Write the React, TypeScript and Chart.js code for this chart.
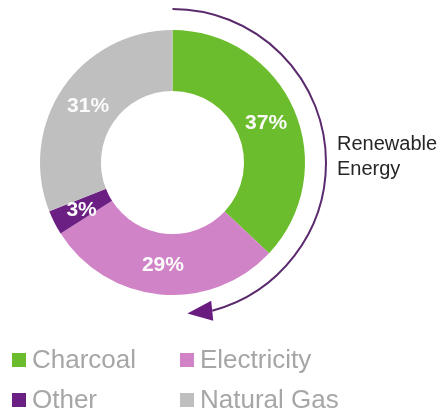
import React, { useEffect, useRef } from "react";
import { Chart, registerables } from "chart.js";

Chart.register(...registerables);

const categories = ["Charcoal", "Electricity", "Other", "Natural Gas"];
const shares = [37, 29, 3, 31];
const colors = ["#6cbd2d", "#d083c6", "#6b1f83", "#bfbfbf"];
const legendOrder = [
  ["Charcoal", "Electricity"],
  ["Other", "Natural Gas"],
];
const annotationLines = ["Renewable", "Energy"];

const FONT = '"Liberation Sans", Arial, Helvetica, sans-serif';

const labelPlugin = {
  id: "sliceLabels",
  afterDatasetsDraw(chart: any) {
    const ctx = chart.ctx;
    const meta = chart.getDatasetMeta(0);
    ctx.save();
    ctx.font = `bold 21px ${FONT}`;
    ctx.fillStyle = "#fbfbfb";
    ctx.textAlign = "center";
    ctx.textBaseline = "middle";
    meta.data.forEach((el: any, i: number) => {
      const p = el.tooltipPosition(false);
      ctx.fillText(`${shares[i]}%`, p.x, p.y + 1);
    });
    ctx.restore();
  },
};

const arrowPlugin = {
  id: "renewableArrow",
  afterDraw(chart: any) {
    const meta = chart.getDatasetMeta(0);
    const el: any = meta.data[0];
    if (!el) return;
    const cx = el.x;
    const cy = el.y;
    const R = el.outerRadius + 21;
    const ctx = chart.ctx;
    const endDeg = 165;
    const endRad = (endDeg * Math.PI) / 180;
    ctx.save();
    ctx.strokeStyle = "#5a2a6c";
    ctx.lineWidth = 2;
    ctx.beginPath();
    ctx.arc(cx, cy, R, -Math.PI / 2, -Math.PI / 2 + endRad, false);
    ctx.stroke();
    // arrow head, pointing along the chord of the continuing circle
    const bx = cx + R * Math.sin(endRad);
    const by = cy - R * Math.cos(endRad);
    const dirRad = ((endDeg + 9) * Math.PI) / 180;
    const tx = Math.cos(dirRad);
    const ty = Math.sin(dirRad);
    const nx = -ty;
    const ny = tx;
    const len = 25;
    const half = 10;
    ctx.fillStyle = "#6a1b80";
    ctx.beginPath();
    ctx.moveTo(bx + tx * len, by + ty * len);
    ctx.lineTo(bx + nx * half, by + ny * half);
    ctx.lineTo(bx - nx * half, by - ny * half);
    ctx.closePath();
    ctx.fill();
    ctx.restore();
  },
};

export default function App() {
  const ref = useRef<HTMLCanvasElement | null>(null);

  useEffect(() => {
    if (!ref.current) return;
    const chart = new Chart(ref.current, {
      type: "doughnut",
      data: {
        labels: categories,
        datasets: [
          {
            data: shares,
            backgroundColor: colors,
            borderWidth: 0,
          },
        ],
      },
      options: {
        responsive: false,
        animation: false,
        cutout: "54%",
        layout: { padding: { left: 40, top: 30, right: 137, bottom: 123 } },
        plugins: {
          legend: { display: false },
          tooltip: { enabled: false },
        },
      },
      plugins: [labelPlugin, arrowPlugin],
    });
    return () => chart.destroy();
  }, []);

  const colorOf = (name: string) => colors[categories.indexOf(name)];

  return (
    <div
      style={{
        position: "absolute",
        left: 0,
        top: 0,
        width: 442,
        height: 418,
        background: "#ffffff",
        fontFamily: FONT,
        overflow: "hidden",
      }}
    >
      <canvas ref={ref} width={442} height={418} style={{ position: "absolute", left: 0, top: 0 }} />
      <div
        style={{
          position: "absolute",
          left: 337,
          top: 130.5,
          fontSize: 20,
          lineHeight: "25px",
          color: "#262626",
          whiteSpace: "nowrap",
        }}
      >
        {annotationLines.map((t) => (
          <div key={t}>{t}</div>
        ))}
      </div>
      {legendOrder.map((row, r) =>
        row.map((name, c) => {
          const left = c === 0 ? 12 : 180;
          const textTop = 346 + r * 40;
          const boxTop = 353 + r * 40;
          return (
            <React.Fragment key={name}>
              <div
                style={{
                  position: "absolute",
                  left,
                  top: boxTop,
                  width: 14,
                  height: 14,
                  background: colorOf(name),
                }}
              />
              <div
                style={{
                  position: "absolute",
                  left: left + 20,
                  top: textTop,
                  fontSize: 26,
                  lineHeight: "26px",
                  color: "#a6a6a6",
                  whiteSpace: "nowrap",
                }}
              >
                {name}
              </div>
            </React.Fragment>
          );
        })
      )}
    </div>
  );
}
